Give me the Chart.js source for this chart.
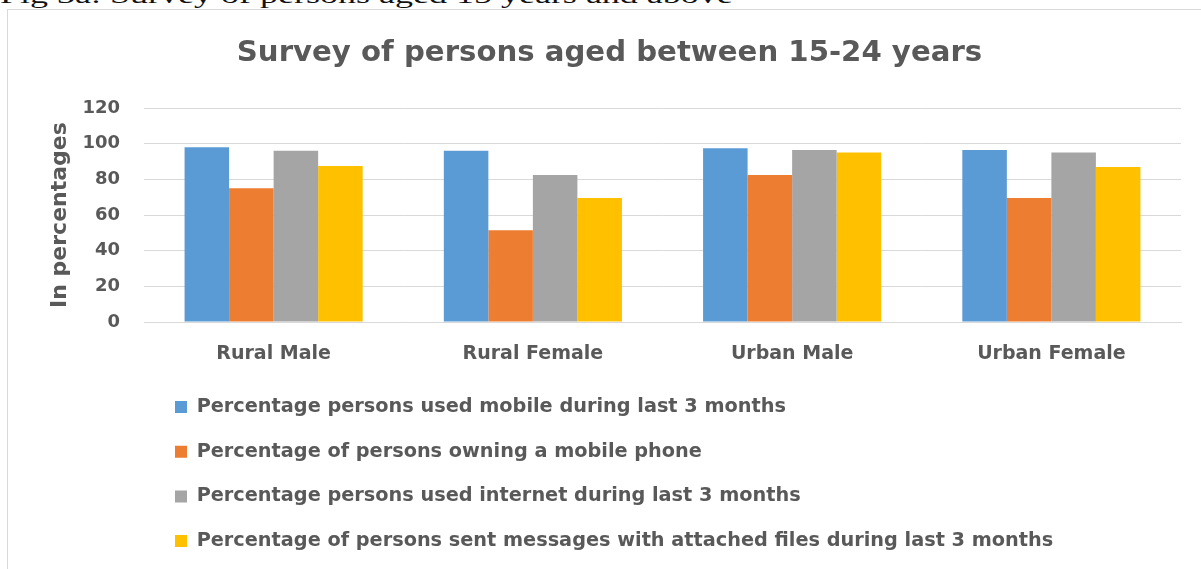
<!DOCTYPE html>
<html>
<head>
<meta charset="utf-8">
<script src="https://cdn.jsdelivr.net/npm/chart.js@4.4.1/dist/chart.umd.min.js"></script>
<style>
html,body{margin:0;padding:0;background:#fff;overflow:hidden;width:1201px;height:569px;}
#frame{position:absolute;left:7px;top:9px;width:1230px;height:600px;border:1px solid #d9d9d9;box-sizing:border-box;background:#fff;}
#wrap{position:absolute;left:8px;top:10px;width:1203px;height:559px;}
#caption{position:absolute;left:0;top:-27px;font-family:"Liberation Serif","DejaVu Serif",serif;font-size:36px;line-height:36px;white-space:nowrap;color:#111;transform:scaleY(0.62);transform-origin:0 30px;z-index:5;}
</style>
</head>
<body>
<div id="frame"></div>
<div id="wrap"><canvas id="c" width="1203" height="559"></canvas></div>
<div id="caption">Fig 3a: Survey of persons aged 15 years and above</div>
<script>
// ---- data ----
const categories = ['Rural Male', 'Rural Female', 'Urban Male', 'Urban Female'];
const seriesNames = [
  'Percentage persons used mobile during last 3 months',
  'Percentage of persons owning a mobile phone',
  'Percentage persons used internet during last 3 months',
  'Percentage of persons sent messages with attached files during last 3 months'
];
const usedMobile   = [98, 96, 97.5, 96.5];
const ownMobile    = [75, 51.5, 82.5, 69.5];
const usedInternet = [96, 82.5, 96.5, 95];
const sentFiles    = [87.5, 69.5, 95, 87];
const yTickValues  = [0, 20, 40, 60, 80, 100, 120];
const chartTitle   = 'Survey of persons aged between 15-24 years';
const yAxisTitle   = 'In percentages';

// ---- styles ----
const seriesColors = ['#5B9BD5', '#ED7D31', '#A5A5A5', '#FFC000'];
const textColor = '#595959';
const gridColor = '#d9d9d9';
const FONT = '"DejaVu Sans", "Liberation Sans", Arial, sans-serif';

const seriesValues = [usedMobile, ownMobile, usedInternet, sentFiles];

// move the built-in legend's rows so they start under the plot, like the original
const legendShift = {
  id: 'legendShift',
  afterLayout(chart, args, opts) {
    const lg = chart.legend;
    if (!lg) return;
    const pad = lg.options.labels.padding;
    lg.left += opts.boxX - (lg.left + pad);
  }
};

new Chart(document.getElementById('c'), {
  type: 'bar',
  data: {
    labels: categories,
    datasets: seriesNames.map((name, i) => ({
      label: name,
      data: seriesValues[i],
      backgroundColor: seriesColors[i],
      borderWidth: 0,
      barPercentage: 1.0,
      categoryPercentage: 0.687
    }))
  },
  options: {
    responsive: false,
    animation: false,
    devicePixelRatio: 1,
    layout: { padding: { left: 30, right: 30, top: 0, bottom: 8.25 } },
    plugins: {
      title: {
        display: true,
        text: chartTitle,
        color: textColor,
        font: { family: FONT, size: 29.2, weight: 'bold' },
        padding: { top: 26, bottom: 37 }
      },
      legend: {
        display: true,
        position: 'bottom',
        align: 'start',
        labels: {
          color: textColor,
          font: { family: FONT, size: 19.3, weight: 'bold' },
          boxWidth: 12,
          boxHeight: 12,
          padding: 25.4
        }
      },
      legendShift: { boxX: 167 },
      tooltip: { enabled: false }
    },
    scales: {
      x: {
        grid: { display: false, drawTicks: false },
        border: { display: true, color: gridColor, width: 1 },
        ticks: {
          color: textColor,
          font: { family: FONT, size: 19, weight: 'bold' },
          padding: 21
        },
        afterFit(scale) { scale.height = 49.95; }
      },
      y: {
        min: 0,
        max: 120,
        afterBuildTicks(scale) { scale.ticks = yTickValues.map(v => ({ value: v })); },
        grid: { color: gridColor, lineWidth: 1, drawTicks: false },
        border: { display: false },
        ticks: {
          color: textColor,
          font: { family: FONT, size: 18, weight: 'bold' },
          padding: 24
        },
        title: {
          display: true,
          text: yAxisTitle,
          color: textColor,
          font: { family: FONT, size: 22, weight: 'bold' },
          padding: { top: 9, bottom: 9 }
        },
        afterFit(scale) { scale.width = 106; }
      }
    }
  },
  plugins: [legendShift]
});
</script>
</body>
</html>
